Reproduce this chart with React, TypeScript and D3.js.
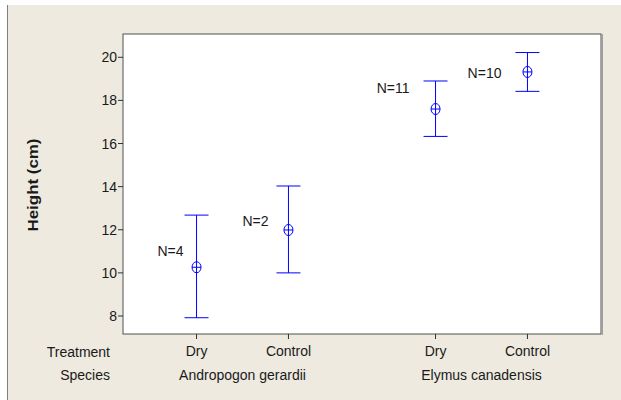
import React from "react";
import * as d3 from "d3";

const species = ["Andropogon gerardii", "Elymus canadensis"];
const treatments = ["Dry", "Control"];
const means = [10.26, 11.99, 17.6, 19.32];
const upper = [12.68, 14.03, 18.9, 20.22];
const lower = [7.92, 10.0, 16.33, 18.42];
const nLabels = ["N=4", "N=2", "N=11", "N=10"];
const yTicks = [8, 10, 12, 14, 16, 18, 20];
// label offsets (px) relative to the mean marker, as Minitab placed them
const labelDx = [-13, -20, -26, -26];
const labelDy = [-16, -9, -21, 1];

const W = 621;
const H = 400;
const frame = { left: 123, top: 34, right: 601, bottom: 334 };
const BLUE = "#0000FF";
const FONT = "'Liberation Sans', Arial, sans-serif";
const GROUP_STEP = 2.6;

export default function App() {
  const x = d3.scaleLinear().domain([-0.8, 4.4]).range([frame.left, frame.right]);
  const y = d3.scaleLinear().domain([7.165, 21.08]).range([frame.bottom, frame.top]);
  const slot = (i: number) => Math.floor(i / 2) * GROUP_STEP + (i % 2);
  const items = means.map((m, i) => ({
    m,
    hi: upper[i],
    lo: lower[i],
    label: nLabels[i],
    cx: x(slot(i)),
    treatment: treatments[i % 2],
  }));
  const capW = 12;
  return (
    <svg
      width={W}
      height={H}
      style={{ position: "absolute", left: 0, top: 0, display: "block" }}
      fontFamily={FONT}
    >
      <rect x={0} y={0} width={W} height={H} fill="#ffffff" />
      <rect x={7} y={5} width={W - 7} height={H - 5} fill="#EEEAE0" />
      <line x1={7.5} y1={5} x2={7.5} y2={H} stroke="#808080" strokeWidth={1} />
      <rect
        x={frame.left}
        y={frame.top}
        width={frame.right - frame.left}
        height={frame.bottom - frame.top}
        fill="#ffffff"
        stroke="#505050"
        strokeWidth={1}
      />
      <line x1={frame.right + 1.5} y1={frame.top} x2={frame.right + 1.5} y2={frame.bottom + 1} stroke="#a0a0a0" strokeWidth={1} />
      {yTicks.map((t) => (
        <g key={t}>
          <line x1={frame.left - 5} x2={frame.left} y1={y(t)} y2={y(t)} stroke="#303030" />
          <text x={frame.left - 6} y={y(t)} dy="0.36em" textAnchor="end" fontSize={14} fill="#1a1a1a">
            {t}
          </text>
        </g>
      ))}
      <text
        transform={`translate(38, ${(frame.top + frame.bottom) / 2 + 1}) rotate(-90)`}
        textAnchor="middle"
        fontSize={14}
        fontWeight="bold"
        fill="#1a1a1a"
        textLength={93}
        lengthAdjust="spacingAndGlyphs"
      >
        Height (cm)
      </text>
      {items.map((d, i) => (
        <g key={i}>
          <line x1={d.cx} x2={d.cx} y1={frame.bottom} y2={frame.bottom + 5} stroke="#303030" />
          <text x={d.cx} y={frame.bottom + 17} dy="0.36em" textAnchor="middle" fontSize={14} fill="#1a1a1a">
            {d.treatment}
          </text>
          <line x1={d.cx} x2={d.cx} y1={y(d.hi)} y2={y(d.lo)} stroke={BLUE} />
          <line x1={d.cx - capW} x2={d.cx + capW} y1={y(d.hi)} y2={y(d.hi)} stroke={BLUE} />
          <line x1={d.cx - capW} x2={d.cx + capW} y1={y(d.lo)} y2={y(d.lo)} stroke={BLUE} />
          <ellipse cx={d.cx} cy={y(d.m)} rx={4.5} ry={5.5} fill="none" stroke={BLUE} />
          <line x1={d.cx - 4.5} x2={d.cx + 4.5} y1={y(d.m)} y2={y(d.m)} stroke={BLUE} />
          <text
            x={d.cx + labelDx[i]}
            y={y(d.m) + labelDy[i]}
            dy="0.36em"
            textAnchor="end"
            fontSize={14}
            fill="#1a1a1a"
          >
            {d.label}
          </text>
        </g>
      ))}
      {species.map((s, g) => (
        <text
          key={s}
          x={x(g * GROUP_STEP + 0.5)}
          y={375}
          dy="0.36em"
          textAnchor="middle"
          fontSize={14}
          fill="#1a1a1a"
        >
          {s}
        </text>
      ))}
      <text x={110} y={351.5} dy="0.36em" textAnchor="end" fontSize={14} fill="#1a1a1a">
        Treatment
      </text>
      <text x={110} y={375} dy="0.36em" textAnchor="end" fontSize={14} fill="#1a1a1a">
        Species
      </text>
    </svg>
  );
}
